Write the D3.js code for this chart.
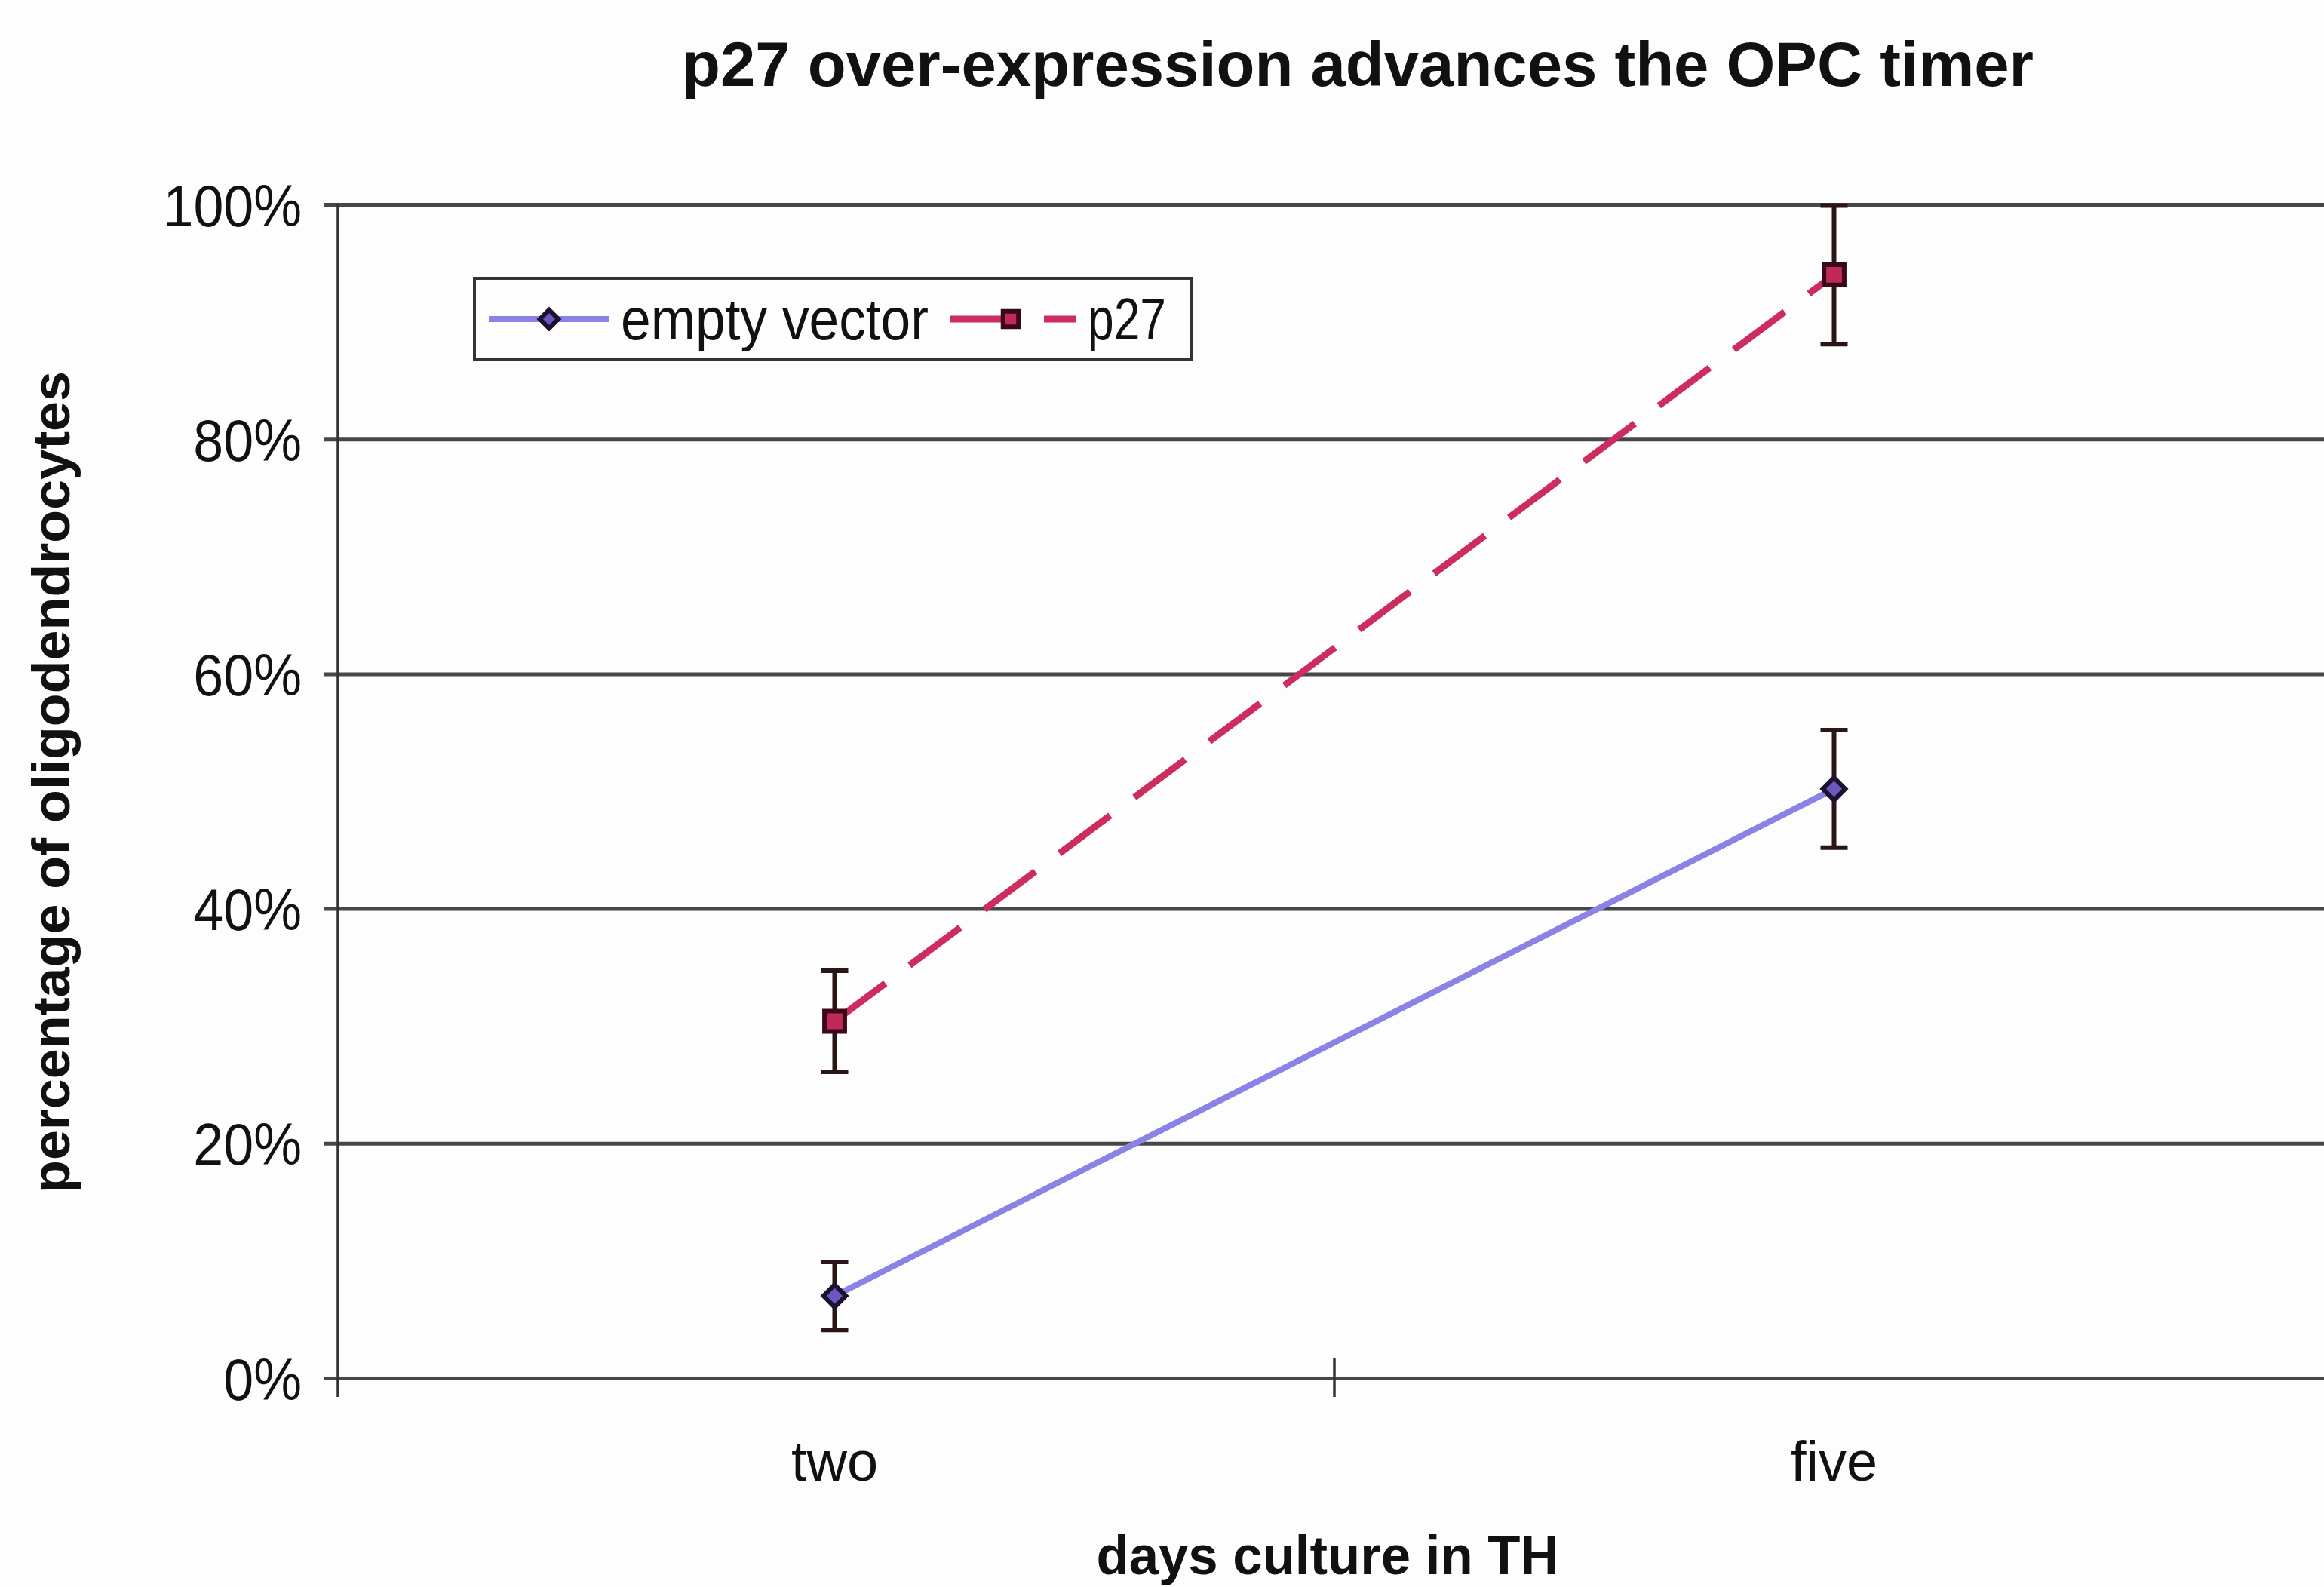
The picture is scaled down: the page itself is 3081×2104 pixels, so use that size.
<!DOCTYPE html>
<html>
<head>
<meta charset="utf-8">
<script src="https://cdn.jsdelivr.net/npm/d3@7"></script>
<style>
  html, body { margin: 0; padding: 0; background: #fdfdfd; }
  svg { display: block; }
  text { font-family: "Liberation Sans", Arial, sans-serif; fill: #111; }
</style>
</head>
<body>
<script>
// ---- data ----
const categories = ["two", "five"];
const seriesNames = ["empty vector", "p27"];
const emptyVector = [7.0, 50.2];
const emptyVectorErr = [2.9, 5.0];
const p27 = [30.4, 94.0];
const p27Err = [4.3, 5.9];
const yTicks = [0, 20, 40, 60, 80, 100];
const titleText = "p27 over-expression advances the OPC timer";
const xTitle = "days culture in TH";
const yTitle = "percentage of oligodendrocytes";

// ---- layout ----
const W = 3081, H = 2104;
const plotLeft = 448, plotRight = W, plotTop = 271, plotBottom = 1827;
const band = 1325;

const svg = d3.select("body").append("svg").attr("width", W).attr("height", H);
svg.append("rect").attr("width", W).attr("height", H).attr("fill", "#fdfdfd");

const x = d3.scaleBand().domain(categories).range([plotLeft - 4, plotLeft - 4 + band * 2]).padding(0);
const y = d3.scaleLinear().domain([0, 100]).range([plotBottom, plotTop]);
const cx = c => x(c) + x.bandwidth() / 2;

// gridlines + y axis ticks
const yAxis = d3.axisLeft(y).tickValues(yTicks).tickFormat(d => d + "%").tickSize(0).tickPadding(0);
const gy = svg.append("g").attr("transform", `translate(${plotLeft},0)`).call(yAxis);
gy.select(".domain").remove();
gy.selectAll(".tick line").remove();
gy.selectAll(".tick").append("line")
  .attr("x1", -18).attr("x2", plotRight - plotLeft)
  .attr("stroke", "#474747").attr("stroke-width", 5);
gy.selectAll(".tick text")
  .attr("x", -48).attr("dy", "0.36em")
  .attr("font-size", 78).attr("fill", "#111")
  .attr("font-family", "Liberation Sans, Arial, sans-serif")
  .each(function () { const l = this.getComputedTextLength(); d3.select(this).attr("textLength", l * 0.92).attr("lengthAdjust", "spacingAndGlyphs"); });

// y axis line
svg.append("line").attr("x1", plotLeft).attr("x2", plotLeft)
  .attr("y1", plotTop).attr("y2", plotBottom + 25)
  .attr("stroke", "#333").attr("stroke-width", 3.5);

// x axis
const xAxis = d3.axisBottom(x).tickSize(0).tickPadding(0);
const gx = svg.append("g").attr("transform", `translate(0,${plotBottom})`).call(xAxis);
gx.select(".domain").remove();
gx.selectAll(".tick text")
  .attr("y", 136).attr("dy", 0)
  .attr("font-size", 74).attr("fill", "#111")
  .attr("font-family", "Liberation Sans, Arial, sans-serif");
// category separator tick
svg.append("line")
  .attr("x1", x("five")).attr("x2", x("five"))
  .attr("y1", plotBottom - 27).attr("y2", plotBottom + 25)
  .attr("stroke", "#333").attr("stroke-width", 3.5);

// ---- series ----
const series = [
  { name: seriesNames[0], values: emptyVector, err: emptyVectorErr, color: "#8a82e4", width: 8, dash: null, marker: "diamond", mfill: "#6a58c0", mstroke: "#1c1230", msize: 560, lsize: 380 },
  { name: seriesNames[1], values: p27, err: p27Err, color: "#cc2c5e", width: 9, dash: "84,40", marker: "square", mfill: "#c02a58", mstroke: "#3a0818", msize: 720, lsize: 420 }
];

const symType = m => m === "diamond" ? d3.symbolDiamond2 : d3.symbolSquare;
const line = d3.line().x(d => cx(d.c)).y(d => y(d.v));

series.forEach(s => {
  const pts = categories.map((c, i) => ({ c, v: s.values[i], e: s.err[i] }));
  svg.append("path").datum(pts).attr("d", line)
    .attr("fill", "none").attr("stroke", s.color).attr("stroke-width", s.width)
    .attr("stroke-dasharray", s.dash);
  // error bars
  const eb = svg.append("g").selectAll("g").data(pts).join("g");
  eb.append("line").attr("x1", d => cx(d.c)).attr("x2", d => cx(d.c))
    .attr("y1", d => y(d.v + d.e)).attr("y2", d => y(d.v - d.e))
    .attr("stroke", "#2a1616").attr("stroke-width", 6);
  [1, -1].forEach(sg => {
    eb.append("line").attr("x1", d => cx(d.c) - 18).attr("x2", d => cx(d.c) + 18)
      .attr("y1", d => y(d.v + sg * d.e)).attr("y2", d => y(d.v + sg * d.e))
      .attr("stroke", "#2a1616").attr("stroke-width", 6);
  });
  // markers
  svg.append("g").selectAll("path").data(pts).join("path")
    .attr("transform", d => `translate(${cx(d.c)},${y(d.v)})`)
    .attr("d", d3.symbol(symType(s.marker), s.msize))
    .attr("fill", s.mfill).attr("stroke", s.mstroke).attr("stroke-width", 6);
});

// ---- legend ----
const lg = svg.append("g");
lg.append("rect").attr("x", 629).attr("y", 369).attr("width", 950).attr("height", 108)
  .attr("fill", "#fdfdfd").attr("stroke", "#333").attr("stroke-width", 4);
const legendItems = [
  { s: series[0], x0: 648, x1: 807, mx: 728, tx: 823, tw: 408 },
  { s: series[1], x0: 1260, x1: 1426, mx: 1340, tx: 1442, tw: 104 }
];
legendItems.forEach(it => {
  lg.append("line").attr("x1", it.x0).attr("x2", it.x1).attr("y1", 423).attr("y2", 423)
    .attr("stroke", it.s.color).attr("stroke-width", it.s.width).attr("stroke-dasharray", it.s.dash);
  lg.append("path").attr("transform", `translate(${it.mx},423)`)
    .attr("d", d3.symbol(symType(it.s.marker), it.s.lsize))
    .attr("fill", it.s.mfill).attr("stroke", it.s.mstroke).attr("stroke-width", 6);
  lg.append("text").attr("x", it.tx).attr("y", 450).attr("font-size", 78)
    .attr("textLength", it.tw).attr("lengthAdjust", "spacingAndGlyphs").text(it.s.name);
});

// ---- titles ----
svg.append("text").attr("x", 1800).attr("y", 114).attr("text-anchor", "middle")
  .attr("font-size", 84).attr("font-weight", "bold")
  .attr("textLength", 1792).attr("lengthAdjust", "spacingAndGlyphs").text(titleText);

svg.append("text").attr("x", 1760).attr("y", 2087).attr("text-anchor", "middle")
  .attr("font-size", 72).attr("font-weight", "bold")
  .attr("textLength", 613).attr("lengthAdjust", "spacingAndGlyphs").text(xTitle);

svg.append("text").attr("transform", "translate(92,1037) rotate(-90)").attr("text-anchor", "middle")
  .attr("font-size", 70).attr("font-weight", "bold")
  .attr("textLength", 1090).attr("lengthAdjust", "spacingAndGlyphs").text(yTitle);
</script>
</body>
</html>
